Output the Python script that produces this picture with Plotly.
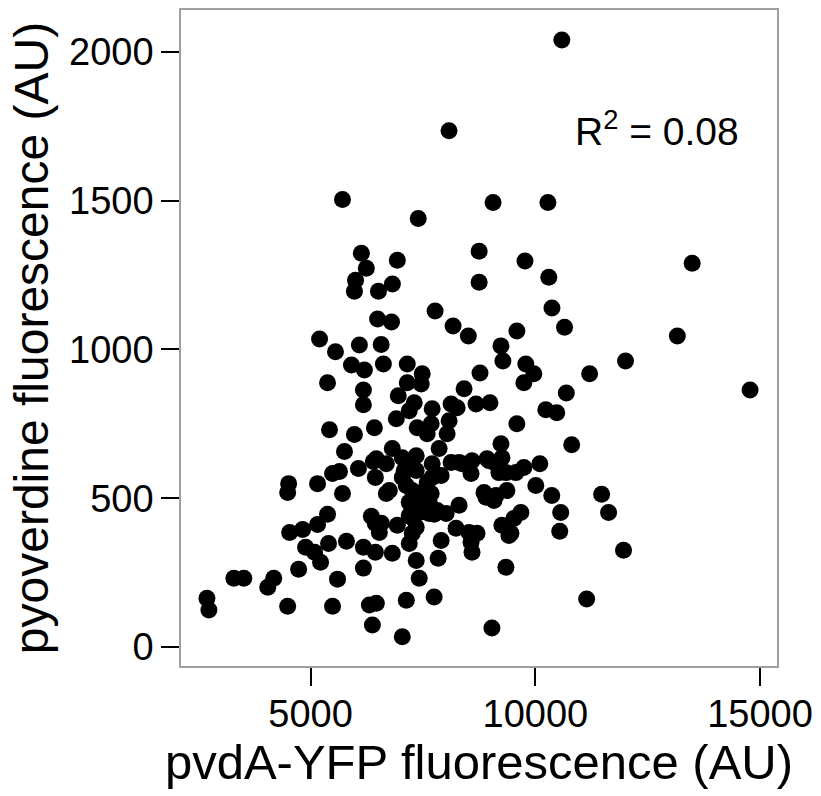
import plotly.graph_objects as go

# pvdA-YFP fluorescence (AU) and pyoverdine fluorescence (AU)
pvda_yfp = [
    10590, 8080, 5710, 7395, 9060, 10280, 8750, 8750, 6130, 6240,
    6930, 6000, 5975, 6510, 6820, 7770, 6490, 6800, 8170, 8510,
    5200, 9770, 10300, 10370, 10650, 9590, 13160, 13490,
    5554, 6086, 6570, 5909, 6197, 6620, 5377, 6175, 6175, 5421,
    5975, 6420, 5754, 5488, 5643, 6064, 6397, 6441, 4512, 4490,
    5155, 5710,
    5377, 5155, 4823, 4534, 6352, 6440, 5399, 5798, 4889, 5089,
    5222, 6175, 6441, 4734, 6175, 3293, 3514, 4180, 4047, 5599,
    2694, 2738, 4490, 5488, 6308, 6463, 6375,
    7151, 7483, 7151, 7461, 6951, 7306, 7195, 7705, 6907, 7372,
    7683, 7594, 8038, 8126, 8260, 8082, 8415, 8681, 8991, 8769,
    9235, 9279, 9789, 9967, 9745, 10690, 10233, 10477, 9590, 10809,
    9235, 7860, 6463, 6818, 6685, 7040, 7350, 7239, 7040, 7705,
    7905, 8126, 8304, 8592, 8925, 9124, 9346, 9567, 9745, 10100,
    10011, 10366, 8570, 7594, 7261, 6685, 8858, 9124, 9368,
    7417, 7683, 8902, 10565, 9678, 9523, 9257, 9457, 10543, 9346,
    9035, 8304, 8016, 7749, 7417, 7195, 7350, 6929, 6530, 6818,
    7195, 8237, 8525, 8703, 8592, 8570, 7905, 7838, 7350, 7417,
    7749, 7129, 7040,
    12007, 11208, 14778, 11475, 11630, 11962, 11142,
    7084, 7350, 7705, 6752, 7129, 7483, 7195, 7639, 8370, 8969,
    9257, 9190, 9080, 7350, 7639, 7239, 7816, 6574, 7262, 9412,
]
pyoverdine = [
    2040, 1735, 1504, 1440, 1494, 1494, 1330, 1226, 1323, 1273,
    1300, 1233, 1196, 1196, 1220, 1129, 1102, 1092, 1079, 1045,
    1035, 1297, 1243, 1139, 1075, 1062, 1045, 1290,
    992, 1015, 1017, 948, 931, 951, 888, 864, 814, 730,
    714, 737, 657, 583, 590, 600, 623, 570, 549, 519,
    549, 516,
    446, 412, 395, 385, 439, 415, 348, 355, 335, 318,
    285, 335, 318, 261, 265, 231, 231, 231, 201, 228,
    164, 124, 137, 137, 141, 147, 74,
    951, 918, 888, 884, 844, 821, 794, 801, 767, 737,
    750, 717, 717, 817, 804, 760, 868, 817, 821, 921,
    1012, 961, 951, 918, 888, 854, 797, 787, 750, 680,
    683, 667, 633, 667, 616, 636, 643, 616, 570, 616,
    576, 620, 620, 626, 633, 616, 586, 586, 603, 616,
    543, 509, 583, 553, 526, 516, 519, 509, 526,
    516, 516, 503, 452, 452, 432, 409, 382, 389, 268,
    64, 476, 449, 446, 452, 442, 402, 409, 385, 315,
    348, 399, 385, 382, 318, 352, 358, 298, 291, 231,
    168, 157, 34,
    961, 918, 864, 513, 452, 325, 161,
    593, 593, 570, 526, 543, 519, 486, 486, 616, 626,
    636, 586, 492, 466, 449, 436, 459, 416, 382, 375,
]

x_ticks = [5000, 10000, 15000]
y_ticks = [0, 500, 1000, 1500, 2000]
r2_label = "R<sup>2</sup> = 0.08"

FONT = "Liberation Sans, Arial, Helvetica, sans-serif"

fig = go.Figure()
fig.add_trace(go.Scatter(
    x=pvda_yfp, y=pyoverdine, mode="markers",
    marker=dict(color="black", size=17, line=dict(width=0)),
    hoverinfo="x+y", showlegend=False,
))

fig.add_annotation(
    x=10840, y=1742, xref="x", yref="y", text=r2_label, showarrow=False,
    xanchor="left", yanchor="middle",
    font=dict(family=FONT, size=39, color="black"),
)

axis_common = dict(
    showgrid=False, zeroline=False, showline=True, mirror=True,
    linecolor="#a0a0a0", linewidth=1.5,
    ticks="outside", ticklen=18, tickwidth=1.5, tickcolor="black",
    tickfont=dict(family=FONT, size=38, color="black"),
)

fig.update_layout(
    width=821, height=796,
    margin=dict(l=181, r=42, t=8, b=130),
    paper_bgcolor="white", plot_bgcolor="white",
    font=dict(family=FONT, color="black"),
    xaxis=dict(
        range=[2117, 15377], tickvals=x_ticks, ticktext=[str(v) for v in x_ticks],
        ticklabelstandoff=-4,
        title=dict(text="pvdA-YFP fluorescence (AU)", font=dict(family=FONT, size=49), standoff=4),
        **axis_common,
    ),
    yaxis=dict(
        range=[-64, 2141], tickvals=y_ticks, ticktext=[str(v) for v in y_ticks],
        title=dict(text="pyoverdine fluorescence (AU)", font=dict(family=FONT, size=48), standoff=5),
        **axis_common,
    ),
)

fig.write_html("out.html")
